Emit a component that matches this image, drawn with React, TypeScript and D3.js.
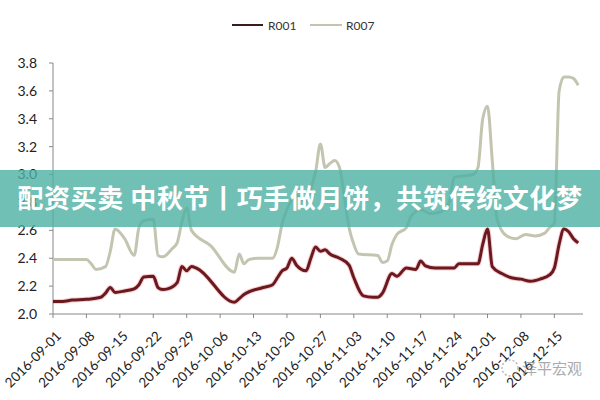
import React from "react";
import * as d3 from "d3";

const r001Dates = [
  "2016-09-01","2016-09-03","2016-09-05","2016-09-08","2016-09-11","2016-09-12","2016-09-13","2016-09-14",
  "2016-09-16","2016-09-18","2016-09-19","2016-09-20","2016-09-22","2016-09-23","2016-09-24","2016-09-25",
  "2016-09-27","2016-09-28","2016-09-29","2016-09-30","2016-10-01","2016-10-09","2016-10-10","2016-10-11",
  "2016-10-15","2016-10-17","2016-10-18","2016-10-19","2016-10-20","2016-10-21","2016-10-22","2016-10-24",
  "2016-10-25","2016-10-26","2016-10-27","2016-10-28","2016-10-29","2016-10-31","2016-11-02","2016-11-03",
  "2016-11-05","2016-11-07","2016-11-08","2016-11-09","2016-11-11","2016-11-12","2016-11-14","2016-11-16",
  "2016-11-17","2016-11-18","2016-11-20","2016-11-24","2016-11-25","2016-11-29","2016-11-30","2016-12-01",
  "2016-12-02","2016-12-04","2016-12-06","2016-12-08","2016-12-10","2016-12-12","2016-12-14","2016-12-15",
  "2016-12-16","2016-12-17","2016-12-18","2016-12-19","2016-12-20",
];
const r001Values = [
  2.09, 2.09, 2.10, 2.105, 2.12, 2.15, 2.19, 2.155,
  2.165, 2.18, 2.21, 2.265, 2.27, 2.19, 2.175, 2.18,
  2.225, 2.34, 2.31, 2.34, 2.33, 2.085, 2.11, 2.14,
  2.19, 2.21, 2.26, 2.31, 2.33, 2.40, 2.35, 2.31,
  2.40, 2.48, 2.45, 2.46, 2.43, 2.40, 2.35, 2.26,
  2.13, 2.12, 2.12, 2.15, 2.29, 2.27, 2.33, 2.32,
  2.38, 2.345, 2.33, 2.33, 2.36, 2.36, 2.50, 2.61,
  2.34, 2.29, 2.26, 2.25, 2.235, 2.25, 2.28, 2.33,
  2.50, 2.61, 2.59, 2.54, 2.51,
];

const r007Dates = [
  "2016-09-01","2016-09-05","2016-09-08","2016-09-09","2016-09-10","2016-09-12","2016-09-13","2016-09-14",
  "2016-09-16","2016-09-18","2016-09-19","2016-09-20","2016-09-22","2016-09-23","2016-09-24","2016-09-26",
  "2016-09-27","2016-09-28","2016-09-29","2016-09-30","2016-10-04","2016-10-09","2016-10-10","2016-10-11",
  "2016-10-12","2016-10-14","2016-10-17","2016-10-18","2016-10-19","2016-10-20","2016-10-22","2016-10-24",
  "2016-10-25","2016-10-26","2016-10-27","2016-10-28","2016-10-29","2016-10-30","2016-10-31","2016-11-01",
  "2016-11-02","2016-11-03","2016-11-04","2016-11-08","2016-11-09","2016-11-10","2016-11-11","2016-11-12",
  "2016-11-14","2016-11-15","2016-11-17","2016-11-19","2016-11-21","2016-11-23","2016-11-24","2016-11-28",
  "2016-11-29","2016-11-30","2016-12-01","2016-12-02","2016-12-03","2016-12-05","2016-12-07","2016-12-09",
  "2016-12-11","2016-12-13","2016-12-14","2016-12-15","2016-12-16","2016-12-17","2016-12-18","2016-12-19",
  "2016-12-20",
];
const r007Values = [
  2.39, 2.39, 2.39, 2.36, 2.32, 2.34, 2.45, 2.61,
  2.54, 2.42, 2.62, 2.67, 2.68, 2.42, 2.41, 2.47,
  2.51, 2.66, 2.76, 2.60, 2.49, 2.30, 2.43, 2.36,
  2.39, 2.40, 2.40, 2.48, 2.65, 2.75, 2.85, 2.80,
  2.90, 3.02, 3.22, 3.05, 3.08, 3.10, 3.05, 2.85,
  2.62, 2.50, 2.43, 2.42, 2.37, 2.38, 2.50, 2.57,
  2.62, 2.70, 2.75, 2.72, 2.73, 2.80, 2.98, 3.00,
  3.05, 3.40, 3.49, 3.10, 2.68, 2.56, 2.54, 2.57,
  2.56, 2.58, 2.62, 2.65, 3.60, 3.70, 3.70, 3.69,
  3.64,
];

const seriesNames = ["R001", "R007"];
const seriesColors = ["#6a1a1f", "#c4c5b0"];
const yTicks = [2.0, 2.2, 2.4, 2.6, 2.8, 3.0, 3.2, 3.4, 3.6, 3.8];
const xTickLabels = [
  "2016-09-01","2016-09-08","2016-09-15","2016-09-22","2016-09-29","2016-10-06","2016-10-13","2016-10-20",
  "2016-10-27","2016-11-03","2016-11-10","2016-11-17","2016-11-24","2016-12-01","2016-12-08","2016-12-15",
];
const bannerText = "配资买卖 中秋节丨巧手做月饼，共筑传统文化梦";
const watermarkText = "泽平宏观";

const parse = d3.timeParse("%Y-%m-%d");

export default function App() {
  const x = d3.scaleTime()
    .domain([parse("2016-09-01")!, parse("2016-12-21")!])
    .range([53, 583]);
  const y = d3.scaleLinear().domain([2.0, 3.8]).range([314, 63]);

  const toPts = (ds: string[], vs: number[]) => ds.map((d, i) => [parse(d)!, vs[i]] as [Date, number]);
  const line = d3.line<[Date, number]>()
    .x((d) => x(d[0]))
    .y((d) => y(d[1]))
    .curve(d3.curveMonotoneX);

  const s1 = toPts(r001Dates, r001Values);
  const s7 = toPts(r007Dates, r007Values);

  const font = "Lato, 'Noto Sans', sans-serif";

  return (
    <svg
      width={600}
      height={400}
      style={{ position: "absolute", left: 0, top: 0, background: "#fff" }}
      fontFamily={font}
    >
      <rect x={0} y={0} width={600} height={400} fill="#fff" />
      {/* legend */}
      <g>
        <line x1={232} x2={263} y1={25} y2={25} stroke="#3a1c1c" strokeWidth={2} />
        <text x={268} y={29.5} fontSize={12} fill="#333">{seriesNames[0]}</text>
        <line x1={310} x2={342} y1={25} y2={25} stroke={seriesColors[1]} strokeWidth={2} />
        <text x={346} y={29.5} fontSize={12} fill="#333">{seriesNames[1]}</text>
      </g>
      {/* y axis */}
      <line x1={53} x2={53} y1={63} y2={314} stroke="#888" strokeWidth={1} />
      {yTicks.map((t) => (
        <g key={t}>
          <line x1={49} x2={53} y1={y(t)} y2={y(t)} stroke="#888" />
          <text x={37} y={y(t)} dy="0.35em" textAnchor="end" fontSize={14} fill="#222">
            {d3.format(".1f")(t)}
          </text>
        </g>
      ))}
      {/* x axis */}
      <line x1={53} x2={583} y1={314} y2={314} stroke="#888" strokeWidth={1} />
      {xTickLabels.map((t) => {
        const px = x(parse(t)!);
        return (
          <g key={t}>
            <line x1={px} x2={px} y1={314} y2={318} stroke="#888" />
            <text
              transform={`translate(${px + 9},${337}) rotate(-45)`}
              textAnchor="end"
              fontSize={13.5}
              fill="#222"
            >
              {t}
            </text>
          </g>
        );
      })}
      {/* series */}
      <path d={line(s7)!} fill="none" stroke={seriesColors[1]} strokeWidth={3} strokeLinejoin="round" />
      <path d={line(s1)!} fill="none" stroke="#e04050" strokeOpacity={0.25} strokeWidth={5} strokeLinejoin="round" />
      <path d={line(s1)!} fill="none" stroke={seriesColors[0]} strokeWidth={3} strokeLinejoin="round" />
      {/* banner */}
      <rect x={0} y={170} width={600} height={57} fill="rgb(76,176,164)" fillOpacity={0.8} />
      <text
        x={300}
        y={199}
        dy="0.36em"
        textAnchor="middle"
        fontFamily="'Noto Sans CJK SC', sans-serif"
        fontWeight={700}
        fontSize={26}
        letterSpacing={0.6}
        fill="#fff"
      >
        {bannerText}
      </text>
      {/* watermark */}
      <g opacity={0.7}>
        <circle cx={510} cy={368} r={8} fill="none" stroke="#999" strokeWidth={1.5} strokeDasharray="2 2" />
        <text x={522} y={374} fontFamily="'Noto Sans CJK SC', sans-serif" fontSize={15} fill="#888">
          {watermarkText}
        </text>
      </g>
    </svg>
  );
}
